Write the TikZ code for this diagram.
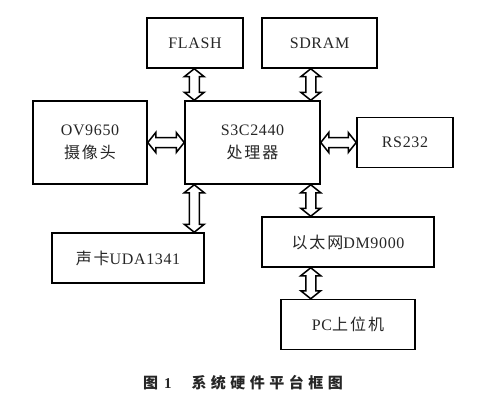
\documentclass[tikz,border=0pt]{standalone}
\usepackage{fontspec}
\setmainfont{Liberation Serif}[LetterSpace=4]
\newfontfamily\cjk[LetterSpace=12]{Noto Sans CJK SC}
\newfontfamily\cjkcap[LetterSpace=30]{Noto Sans CJK SC}
\usetikzlibrary{calc}
\tikzstyle{blockbox} = [draw, line width=1.5pt, minimum height=50pt, inner sep=0pt, text=black!85, font=\fontsize{16}{23}\selectfont, align=center]
\tikzstyle{busline} = [draw, fill=white, line width=1.5pt, line join=miter]
\newcommand{\busarrow}[2]{%
    \coordinate (ba) at (#1);
    \coordinate (bb) at (#2);
    \coordinate (p1) at ($(ba)!8pt!(bb)$);
    \coordinate (p2) at ($(bb)!8pt!(ba)$);
    \path[busline] (ba) -- ($(p1)!10pt!90:(bb)$) -- ($(p1)!5pt!90:(bb)$)
        -- ($(p2)!5pt!-90:(ba)$) -- ($(p2)!10pt!-90:(ba)$) -- (bb)
        -- ($(p2)!10pt!90:(ba)$) -- ($(p2)!5pt!90:(ba)$)
        -- ($(p1)!5pt!-90:(bb)$) -- ($(p1)!10pt!-90:(bb)$) -- cycle;
}

\begin{document}
\begin{tikzpicture}[x=1pt, y=-1pt]
    \useasboundingbox (0,0) rectangle (490,404);
    \node[blockbox, minimum width=135pt, minimum height=83pt] (cpu) at (252.5,142.5) {S3C2440\\{\cjk 处理器}};
    \node[blockbox, minimum width=96pt] (flash) at ($(cpu)+(-57.5,-99.5)$) {FLASH};
    \node[blockbox, minimum width=115pt] (sdram) at ($(cpu)+(67,-99.5)$) {SDRAM};
    \node[blockbox, minimum width=114pt, minimum height=83pt] (cam) at ($(cpu)+(-162.5,0)$) {OV9650\\{\cjk 摄像头}};
    \node[blockbox, minimum width=96pt] (rs) at ($(cpu)+(152.5,0)$) {RS232};
    \node[blockbox, minimum width=152pt] (sound) at ($(cpu)+(-124.5,115.5)$) {{\cjk 声卡}UDA1341};
    \node[blockbox, minimum width=172pt] (eth) at ($(cpu)+(95.5,99.5)$) {{\cjk 以太网}DM9000};
    \node[blockbox, minimum width=134pt] (pc) at ($(eth)+(0,82.5)$) {PC{\cjk 上位机}};
    \coordinate (busL) at ($(cpu.west)+(10,0)$);
    \coordinate (busR) at ($(cpu.east)+(-10,0)$);
    \busarrow{flash.south -| busL}{cpu.north -| busL}
    \busarrow{sdram.south -| busR}{cpu.north -| busR}
    \busarrow{cam.east}{cpu.west}
    \busarrow{cpu.east}{rs.west}
    \busarrow{cpu.south -| busL}{sound.north -| busL}
    \busarrow{cpu.south -| busR}{eth.north -| busR}
    \busarrow{eth.south -| busR}{pc.north -| busR}

    \node[font=\fontsize{15}{17}\selectfont\bfseries, text=black!85] (caption) at ($(cpu)+(-9.5,240.5)$) {{\cjkcap 图}\hspace{6pt}1\hspace{20pt}{\cjkcap 系统硬件平台框图}};
\end{tikzpicture}
\end{document}
